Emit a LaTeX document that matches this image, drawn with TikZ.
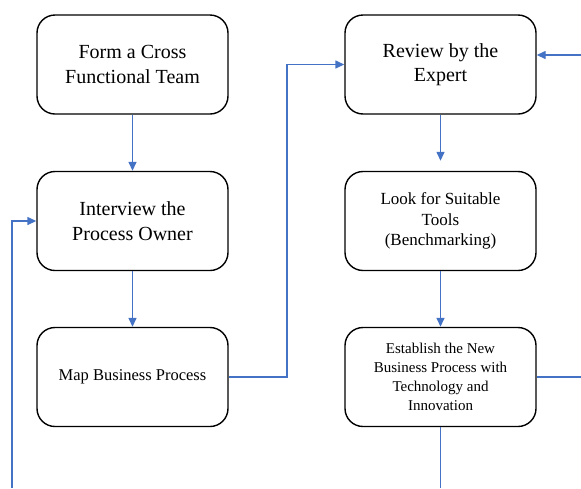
\documentclass[tikz,border=0pt]{standalone}
\usepackage{fontspec}
\setmainfont{Liberation Serif}
\usetikzlibrary{arrows.meta,calc}
\definecolor{linkblue}{RGB}{68,114,196}
\tikzset{
  procbox/.style={draw=black, line width=1.4pt, rounded corners=18pt,
    minimum width=191pt, minimum height=99pt, align=center, inner sep=0pt},
  bigtext/.style={font=\fontsize{20}{24.5}\selectfont},
  midtext/.style={font=\fontsize{17}{20.5}\selectfont},
  smalltext/.style={font=\fontsize{15}{19}\selectfont},
  link/.style={draw=linkblue, line width=1.4pt},
  linkarrow/.style={link, -{Triangle[length=9pt,width=8pt]}}
}
\begin{document}
\begin{tikzpicture}[x=1pt,y=-1pt]
\useasboundingbox (0,0) rectangle (581,488);
\node[procbox,bigtext] (b1) at (132.5,64.5) {Form a Cross\\Functional Team};
\node[procbox,bigtext] (b2) at (132.5,221) {Interview the\\Process Owner};
\node[procbox,font=\fontsize{16.5}{19}\selectfont] (b3) at (132.5,377) {Map Business Process};
\node[procbox,bigtext] (b4) at (440.5,64.5) {Review by the\\Expert};
\node[procbox,midtext] (b5) at (440.5,221) {Look for Suitable\\Tools\\(Benchmarking)};
\node[procbox,smalltext] (b6) at (440.5,377) {Establish the New\\Business Process with\\Technology and\\Innovation};
\coordinate (r1) at (581,55);
\coordinate (r2) at (581,377);
\coordinate (bt) at (440.5,488);
\coordinate (l0) at (12,488);
\coordinate (j1) at (287,377);
\draw[linkarrow] (b1.south) -- (b2.north);
\draw[linkarrow] (b2.south) -- (b3.north);
\draw[linkarrow] (b3.east) -- (j1) |- (b4.west);
\draw[linkarrow] (b4.south) -- ($(b5.north)+(0,-10)$);
\draw[linkarrow] (b5.south) -- (b6.north);
\draw[linkarrow] (r1) -- (b4.east |- r1);
\draw[link] (b6.east) -- (r2);
\draw[link] (b6.south) -- (bt);
\draw[linkarrow] (l0) |- (b2.west);
\end{tikzpicture}
\end{document}
